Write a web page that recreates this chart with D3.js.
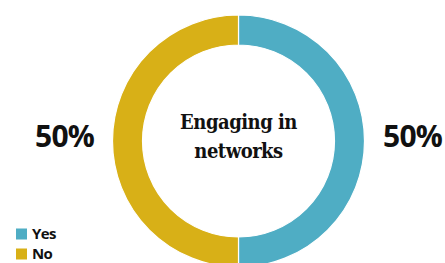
<!DOCTYPE html>
<html>
<head>
<meta charset="utf-8">
<script src="https://cdn.jsdelivr.net/npm/d3@7"></script>
<style>
  body { margin: 0; background: #fff; }
  svg { display: block; }
</style>
</head>
<body>
<svg id="canvas"></svg>
<script>
let labels = ['Yes', 'No'];
let values = [50, 50];
let colors = ['#4fadc4', '#d8b017'];
let title = ['Engaging in', 'networks'];

let width = 445;
let height = 263;
let cx = 238.5;
let cy = 141;
let outerR = 126;
let innerR = 96;

let canvas = d3.select('#canvas').attr('width', width).attr('height', height);

let pie = d3.pie().sort(null).value(d => d);
let arcs = pie(values);

let arc = d3.arc().innerRadius(innerR).outerRadius(outerR);
let labelArc = d3.arc().innerRadius(174).outerRadius(174);

let g = canvas.append('g').attr('transform', `translate(${cx}, ${cy})`);

// slices
g.selectAll('path')
	.data(arcs)
	.enter()
	.append('path')
	.attr('d', arc)
	.attr('fill', (d, i) => colors[i])
	.attr('stroke', '#fff')
	.attr('stroke-width', 1.2);

// percentage labels
g.selectAll('text.pct')
	.data(arcs)
	.enter()
	.append('text')
	.attr('class', 'pct')
	.attr('x', d => labelArc.centroid(d)[0])
	.attr('y', d => labelArc.centroid(d)[1] + 6)
	.attr('text-anchor', 'middle')
	.style('font-family', '"Open Sans"')
	.style('font-weight', '700')
	.style('font-size', '30px')
	.style('letter-spacing', '-0.8px')
	.attr('fill', '#111')
	.text(d => d.value + '%');

// centre title
g.append('text')
	.attr('text-anchor', 'middle')
	.style('font-family', '"DejaVu Serif Condensed", "DejaVu Serif"')
	.style('font-weight', 'bold')
	.style('font-size', '20px')
	.style('letter-spacing', '-0.5px')
	.attr('fill', '#111')
	.selectAll('tspan')
	.data(title)
	.enter()
	.append('tspan')
	.attr('x', 0)
	.attr('y', (d, i) => -12.5 + i * 29)
	.text(d => d);

// legend
let legend = canvas.append('g').attr('transform', 'translate(16, 228.5)');
let item = legend.selectAll('g')
	.data(labels)
	.enter()
	.append('g')
	.attr('transform', (d, i) => `translate(0, ${i * 20})`);

item.append('rect')
	.attr('width', 11)
	.attr('height', 11)
	.attr('fill', (d, i) => colors[i]);

item.append('text')
	.attr('x', 16)
	.attr('y', 10.5)
	.style('font-family', '"Open Sans"')
	.style('font-weight', '700')
	.style('font-size', '15px')
	.style('letter-spacing', '-0.6px')
	.attr('fill', '#111')
	.text(d => d);
</script>
</body>
</html>
